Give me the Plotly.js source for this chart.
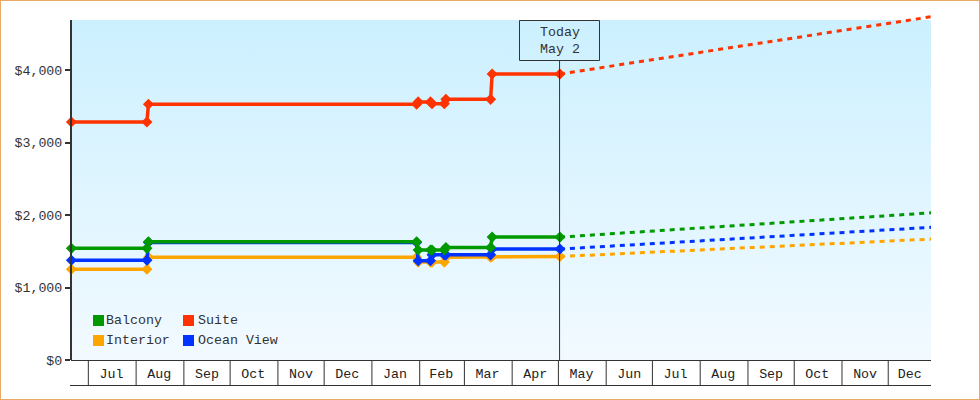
<!DOCTYPE html>
<html>
<head>
<meta charset="utf-8">
<script src="https://cdn.plot.ly/plotly-3.0.1.min.js"></script>
<style>
html,body{margin:0;padding:0;background:#fff;overflow:hidden}
#frame{position:absolute;left:0;top:0;width:978px;height:398px;border:1px solid #e8aa66}
#bg{position:absolute;left:71px;top:20px;width:860px;height:340px;background:linear-gradient(#ccf0ff,#f2faff)}
#chart{position:absolute;left:0;top:0;width:980px;height:400px}
</style>
</head>
<body>
<div id="frame"></div>
<div id="bg"></div>
<div id="chart"></div>
<script>
var seriesNames = ['Balcony','Suite','Interior','Ocean View'];
var seriesColors = ['#009a00','#ff3300','#ffa500','#0033ff'];

var stepDates = ['2023-06-20','2023-08-08','2023-08-09','2024-01-30','2024-01-31','2024-02-08','2024-02-09','2024-02-17','2024-02-18','2024-03-18','2024-03-19','2024-05-02'];
var balconyY  = [1540,1540,1632,1632,1517,1517,1517,1517,1553,1553,1695,1695];
var suiteY    = [3283,3283,3528,3528,3560,3560,3535,3535,3595,3595,3945,3945];
var interiorY = [1251,1251,1417,1417,1350,1350,1350,1350,1417,1417,1427,1427];
var oceanY    = [1375,1375,1622,1622,1370,1370,1450,1450,1450,1450,1530,1530];

var forecastDates = ['2024-05-02','2024-12-29'];
var balconyF  = [1695,2030];
var suiteF    = [3945,4735];
var interiorF = [1427,1668];
var oceanF    = [1530,1830];

var monthStarts = ['2023-07-01','2023-08-01','2023-09-01','2023-10-01','2023-11-01','2023-12-01','2024-01-01','2024-02-01','2024-03-01','2024-04-01','2024-05-01','2024-06-01','2024-07-01','2024-08-01','2024-09-01','2024-10-01','2024-11-01','2024-12-01'];
var monthMids = ['2023-07-16','2023-08-16','2023-09-16','2023-10-16','2023-11-16','2023-12-16','2024-01-16','2024-02-15','2024-03-16','2024-04-16','2024-05-16','2024-06-16','2024-07-16','2024-08-16','2024-09-16','2024-10-16','2024-11-16','2024-12-15'];
var monthLabels = ['Jul','Aug','Sep','Oct','Nov','Dec','Jan','Feb','Mar','Apr','May','Jun','Jul','Aug','Sep','Oct','Nov','Dec'];
var yTicks = [0,1000,2000,3000,4000];
var yLabels = ['$0','$1,000','$2,000','$3,000','$4,000'];
var todayDate = '2024-05-01 18:00';
var todayText = 'Today<br>May 2';

var font = 'Liberation Mono, monospace';
var fs = 13.3;
var ink = '#333333';

function solid(y,i){return {x:stepDates,y:y,name:seriesNames[i],mode:'lines+markers',cliponaxis:false,showlegend:false,hoverinfo:'skip',
  line:{color:seriesColors[i],width:3.5},marker:{symbol:'diamond',size:8.5,color:seriesColors[i],line:{width:0}}};}
function dashed(y,i){return {x:forecastDates,y:y,name:seriesNames[i]+' forecast',mode:'lines',cliponaxis:false,showlegend:false,hoverinfo:'skip',
  line:{color:seriesColors[i],width:3,dash:'5px,5px'}};}

var traces = [
  dashed(suiteF,1),dashed(balconyF,0),dashed(oceanF,3),dashed(interiorF,2),
  solid(suiteY,1),solid(interiorY,2),solid(oceanY,3),solid(balconyY,0)
];

var W=980,H=400,L=71,T=10,R=931,B=360;
function px(v){return (v-L)/(R-L);}
function py(v){return (B-v)/(B-T);}

var legendPos = [[93,320],[183,320],[93,340],[183,340]];
var shapes = [
  {type:'line',xref:'x',yref:'paper',x0:todayDate,x1:todayDate,y0:0,y1:py(60),line:{color:ink,width:1}},
  {type:'rect',xref:'paper',yref:'paper',x0:px(519.5),x1:px(599.5),y0:py(60.5),y1:py(20.5),line:{color:ink,width:1}},
  {type:'line',xref:'paper',yref:'paper',x0:px(70),x1:1,y0:py(385.5),y1:py(385.5),line:{color:ink,width:1}},
  {type:'line',xref:'paper',yref:'paper',x0:px(71),x1:px(71),y0:0,y1:py(20),line:{color:ink,width:2}}
];
monthStarts.forEach(function(m){
  shapes.push({type:'line',xref:'x',yref:'paper',x0:m,x1:m,y0:0,y1:py(385.5),line:{color:ink,width:1}});
});
var annotations = [
  {xref:'paper',yref:'paper',x:px(559.5),y:py(41),xanchor:'center',yanchor:'middle',text:todayText,showarrow:false,
   font:{family:font,size:fs,color:ink},borderpad:0,align:'center'}
];
seriesNames.forEach(function(n,i){
  var p=legendPos[i];
  shapes.push({type:'rect',xref:'paper',yref:'paper',x0:px(p[0]),x1:px(p[0]+11),y0:py(p[1]+6),y1:py(p[1]-5),fillcolor:seriesColors[i],line:{width:0}});
  annotations.push({xref:'paper',yref:'paper',x:px(p[0]+12+(i%2?2:0)),y:py(p[1]),xanchor:'left',yanchor:'middle',text:n,showarrow:false,borderpad:0,
    font:{family:font,size:fs,color:ink}});
});

var layout = {
  width:W,height:H,
  margin:{l:L,r:W-R,t:T,b:H-B,pad:0},
  paper_bgcolor:'rgba(0,0,0,0)',plot_bgcolor:'rgba(0,0,0,0)',
  font:{family:font,size:fs,color:ink},
  showlegend:false,
  xaxis:{type:'date',range:['2023-06-19 18:00','2024-12-28 18:00'],tickmode:'array',tickvals:monthMids,ticktext:monthLabels,
    ticks:'',showgrid:false,zeroline:false,showline:true,linecolor:ink,linewidth:1,
    tickfont:{family:font,size:fs,color:'#222'},ticklabelstandoff:1},
  yaxis:{range:[0,350/0.0725],tickmode:'array',tickvals:yTicks,ticktext:yLabels,ticks:'outside',ticklen:5,tickwidth:2,tickcolor:ink,
    showgrid:false,zeroline:false,showline:false,tickfont:{family:font,size:fs,color:ink}},
  shapes:shapes,annotations:annotations
};
Plotly.newPlot('chart',traces,layout,{displayModeBar:false,staticPlot:true});
</script>
</body>
</html>
